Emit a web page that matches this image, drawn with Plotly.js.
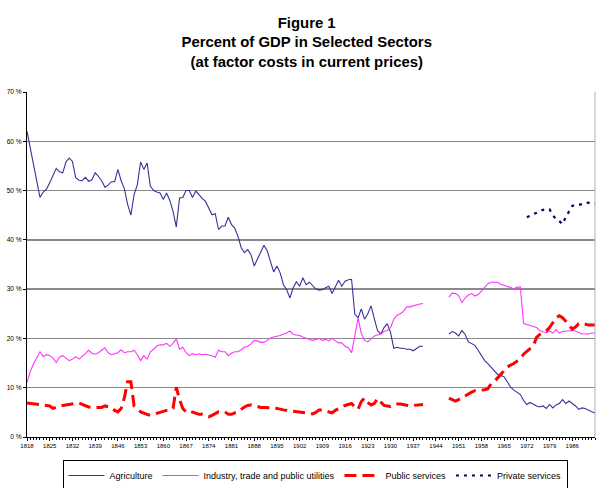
<!DOCTYPE html>
<html>
<head>
<meta charset="utf-8">
<script src="https://cdn.plot.ly/plotly-3.0.1.min.js"></script>
<style>
  html, body { margin: 0; padding: 0; background: #ffffff; }
  #chart { width: 600px; height: 488px; }
</style>
</head>
<body>
<div id="chart"></div>
<script>
// ---------------- DATA (percent of GDP) ----------------
const prewarStartYear = 1818;   // first year of the 1818-1940 block
const postwarStartYear = 1948;  // first year of the 1948-1993 block
const privateStartYear = 1972;  // private services series starts here

const agriculturePre = [
  62.0, 58.6, 54.9, 51.6, 48.6, 49.7, 50.3, 51.6, 53.2, 54.5,
  53.8, 53.6, 55.8, 56.6, 55.9, 52.6, 52.1, 52.0, 52.7, 51.9,
  52.2, 53.6, 52.9, 52.0, 50.7, 51.1, 51.8, 51.8, 54.3, 52.0,
  50.4, 47.2, 45.0, 49.2, 51.2, 55.8, 54.3, 55.6, 50.9, 50.0,
  49.7, 49.5, 48.2, 49.5, 48.0, 45.8, 42.6, 48.5, 48.6, 50.0,
  50.0, 48.6, 49.9, 49.1, 48.4, 47.8, 46.5, 45.1, 45.3, 42.1,
  42.8, 42.8, 44.6, 43.1, 42.4, 40.7, 38.4, 37.4, 38.0, 37.0,
  34.7, 36.2, 37.4, 38.9, 37.8, 35.7, 33.5, 34.7, 33.3, 30.9,
  29.9, 28.2, 30.3, 31.5, 30.6, 32.3, 30.9, 31.4, 30.7, 30.0,
  29.8, 29.9, 30.3, 30.6, 29.1, 30.4, 31.8, 30.6, 31.6, 31.9,
  32.0, 24.9, 24.2, 26.0, 23.9, 25.0, 26.6, 24.0, 21.6, 20.9,
  22.2, 23.0, 21.2, 18.0, 18.2, 18.0, 18.0, 17.8, 17.8, 17.5,
  17.9, 18.4, 18.4
];
const agriculturePost = [
  20.9, 21.4, 21.1, 20.5, 21.6, 20.8, 19.3, 18.9, 18.6, 17.6,
  16.4, 15.5, 14.9, 14.2, 13.4, 12.7, 12.5, 12.2, 11.2, 10.1,
  9.5, 9.0, 8.6, 7.4, 6.6, 7.0, 6.6, 6.3, 6.1, 6.3,
  5.8, 6.6, 5.9, 6.5, 6.8, 7.6, 6.8, 7.3, 6.8, 6.3,
  5.6, 5.9, 5.8, 5.4, 5.1, 4.9
];

const industryPre = [
  11.0, 13.3, 14.8, 16.0, 17.3, 16.3, 16.7, 16.5, 16.0, 15.1,
  16.2, 16.5, 16.0, 15.5, 15.8, 16.3, 15.8, 16.3, 16.9, 17.6,
  17.0, 16.8, 17.1, 17.6, 18.1, 17.1, 16.7, 16.9, 17.1, 17.7,
  17.1, 17.3, 17.3, 17.6, 16.7, 15.5, 16.5, 15.8, 17.3, 17.8,
  18.5, 18.7, 18.7, 19.0, 18.4, 19.0, 19.9, 17.8, 18.2, 17.1,
  16.5, 16.9, 16.7, 16.9, 16.7, 16.8, 16.7, 16.5, 16.2, 17.6,
  17.3, 17.3, 16.5, 17.0, 17.3, 17.3, 17.7, 18.2, 18.4, 18.9,
  19.6, 19.5, 19.2, 19.2, 19.6, 20.1, 20.3, 20.4, 20.6, 20.9,
  21.1, 21.5, 20.8, 20.7, 20.6, 20.3, 20.0, 19.8, 19.6, 19.8,
  20.0, 19.6, 19.8, 19.5, 20.0, 19.5, 19.1, 19.1, 18.4, 18.1,
  17.1, 20.5, 24.2, 21.0, 19.6, 19.3, 20.0, 20.5, 20.7, 20.9,
  21.4, 21.6, 22.2, 23.9, 24.7, 25.0, 25.5, 26.4, 26.4, 26.6,
  26.9, 27.0, 27.1
];
const industryPost = [
  28.4, 29.2, 29.1, 28.7, 27.3, 28.2, 28.8, 29.1, 28.6, 28.9,
  29.6, 30.3, 31.1, 31.4, 31.4, 31.4, 31.0, 30.8, 30.6, 30.3,
  30.1, 30.4, 30.4, 23.0, 22.8, 22.7, 22.5, 22.2, 21.6, 21.4,
  21.1, 21.5, 21.1, 21.8, 21.1, 21.4, 21.5, 21.5, 21.6, 21.5,
  21.2, 20.9, 20.9, 20.9, 21.1, 21.1
];

const publicPre = [
  6.9, 6.8, 6.8, 6.6, 6.6, 6.4, 6.3, 6.3, 5.8, 6.1,
  6.3, 6.4, 6.5, 6.5, 6.7, 6.7, 6.9, 6.6, 6.3, 6.1,
  6.0, 6.0, 6.0, 6.0, 6.3, 6.1, 6.0, 5.4, 5.1, 5.8,
  8.0, 11.2, 11.2, 6.3, 5.8, 5.1, 4.8, 4.6, 4.4, 4.6,
  4.8, 4.9, 5.1, 5.4, 5.4, 5.8, 10.1, 7.6, 5.8, 5.1,
  5.3, 5.1, 4.9, 4.6, 4.6, 4.4, 4.1, 4.4, 4.8, 5.1,
  5.1, 5.1, 4.6, 4.6, 4.9, 5.1, 5.6, 6.1, 6.4, 6.5,
  6.4, 6.2, 6.0, 6.0, 6.0, 5.9, 5.9, 5.8, 5.6, 5.5,
  5.4, 5.3, 5.2, 5.2, 5.0, 4.9, 4.9, 4.8, 4.7, 5.0,
  5.5, 5.5, 5.3, 5.0, 4.9, 5.4, 5.8, 6.1, 6.4, 6.6,
  6.8, 6.1, 5.6, 7.2, 7.9, 7.0, 6.5, 6.8, 7.8, 7.1,
  6.4, 6.3, 6.2, 6.5, 6.7, 6.7, 6.6, 6.5, 6.3, 6.4,
  6.5, 6.6, 6.6
];
const publicPost = [
  7.9, 7.6, 7.3, 7.6, 8.0, 8.4, 8.8, 9.1, 9.4, 9.4,
  9.5, 9.6, 9.8, 10.8, 11.3, 12.0, 12.7, 13.6, 14.2, 14.6,
  14.9, 15.4, 15.9, 16.8, 17.4, 17.9, 18.5, 20.2, 20.8, 21.1,
  21.5, 22.2, 23.3, 24.2, 24.6, 24.2, 23.5, 22.7, 21.9, 22.3,
  23.0, 23.1, 22.9, 22.7, 22.7, 22.7
];

const privateServices = [
  44.6, 44.9, 45.1, 45.4, 45.8, 46.1, 46.2, 46.2, 45.0, 44.2,
  43.8, 43.2, 44.6, 45.8, 46.9, 47.1, 47.1, 47.2, 47.5, 47.6,
  47.6, 47.4
];

const seriesNames = [
  "Agriculture",
  "Industry, trade and public utilities",
  "Public services",
  "Private services"
];
const yTickValues = [0, 10, 20, 30, 40, 50, 60, 70];
const xTickYears = [1818, 1825, 1832, 1839, 1846, 1853, 1860, 1867, 1874, 1881,
  1888, 1895, 1902, 1909, 1916, 1923, 1930, 1937, 1944, 1951, 1958, 1965,
  1972, 1979, 1986];

// ---------------- helpers ----------------
function yearsFrom(start, n) {
  const out = [];
  for (let i = 0; i < n; i++) out.push(start + i);
  return out;
}
// join the two blocks with a null so the war-time gap is not bridged
function twoBlocks(pre, post) {
  const x = yearsFrom(prewarStartYear, pre.length)
    .concat([null])
    .concat(yearsFrom(postwarStartYear, post.length));
  const y = pre.concat([null]).concat(post);
  return { x: x, y: y };
}

const agri = twoBlocks(agriculturePre, agriculturePost);
const ind = twoBlocks(industryPre, industryPost);
const pub = twoBlocks(publicPre, publicPost);

const traces = [
  {
    x: agri.x, y: agri.y, name: seriesNames[0], type: "scatter", mode: "lines",
    connectgaps: false,
    line: { color: "#333399", width: 1.1 }
  },
  {
    x: ind.x, y: ind.y, name: seriesNames[1], type: "scatter", mode: "lines",
    connectgaps: false,
    line: { color: "#ff33ff", width: 1.1 }
  },
  {
    x: pub.x, y: pub.y, name: seriesNames[2], type: "scatter", mode: "lines",
    connectgaps: false,
    line: { color: "#ff0000", width: 3, dash: "12px,6px" }
  },
  {
    x: yearsFrom(privateStartYear, privateServices.length), y: privateServices,
    name: seriesNames[3], type: "scatter", mode: "lines",
    line: { color: "#000066", width: 2.2, dash: "3px,5px" }
  }
];

const layout = {
  width: 600,
  height: 488,
  paper_bgcolor: "#ffffff",
  plot_bgcolor: "#ffffff",
  margin: { l: 27, r: 5, t: 92, b: 51 },
  font: { family: "Liberation Sans, Arial, sans-serif", color: "#000000" },
  title: {
    text: "<b>Figure 1<br>Percent of GDP in Selected Sectors<br>(at factor costs in current prices)</b>",
    font: { family: "Liberation Sans, Arial, sans-serif", size: 14.9, color: "#000000" },
    x: 306.7 / 600,
    xref: "container",
    xanchor: "center",
    y: 1 - 28 / 488,
    yref: "container",
    yanchor: "top"
  },
  showlegend: true,
  legend: {
    orientation: "h",
    x: 315 / 600,
    xref: "container",
    xanchor: "center",
    y: 1 - 460 / 488,
    yref: "container",
    yanchor: "top",
    bordercolor: "#000000",
    borderwidth: 1,
    bgcolor: "#ffffff",
    font: { family: "Liberation Sans, Arial, sans-serif", size: 9, color: "#000000" },
    itemwidth: 36,
    tracegroupgap: 0
  },
  xaxis: {
    range: [1818, 1993],
    tickmode: "array",
    tickvals: xTickYears,
    ticktext: xTickYears.map(String),
    ticks: "outside",
    ticklen: 3,
    tickwidth: 1,
    tickcolor: "#000000",
    minor: { dtick: 1, tick0: 1818, ticks: "outside", ticklen: 2, tickcolor: "#000000", showgrid: false },
    showgrid: false,
    zeroline: false,
    showline: true,
    linecolor: "#000000",
    linewidth: 1,
    tickfont: { size: 6, color: "#000000" },
    fixedrange: true
  },
  yaxis: {
    range: [0, 70],
    tickmode: "array",
    tickvals: yTickValues,
    ticktext: yTickValues.map(v => v + " %"),
    ticks: "outside",
    ticklen: 3,
    tickcolor: "#000000",
    showgrid: true,
    gridcolor: "#8a8a8a",
    gridwidth: 1.3,
    zeroline: false,
    showline: true,
    linecolor: "#000000",
    linewidth: 1,
    tickfont: { size: 6.6, color: "#000000" },
    fixedrange: true
  },
  shapes: [
    { type: "line", xref: "paper", yref: "paper", x0: 1, x1: 1, y0: 0, y1: 1,
      line: { color: "#b0b0b0", width: 1 } }
  ]
};

Plotly.newPlot("chart", traces, layout, { displayModeBar: false, staticPlot: true });
</script>
</body>
</html>
